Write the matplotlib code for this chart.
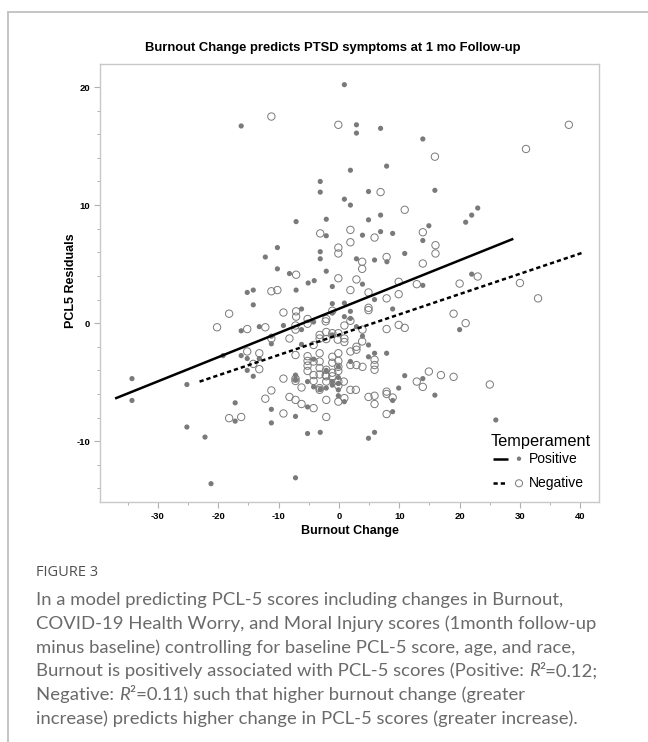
import matplotlib
matplotlib.use("Agg")
import matplotlib.pyplot as plt
from matplotlib.lines import Line2D
from matplotlib.ticker import MultipleLocator
import numpy as np

plt.rcParams['axes.unicode_minus'] = False

# ---------------- data ----------------
pos_x = [0.9, -16.2, 2.9, 2.9, 6.9, 13.9, 1.9, -3.1, -3.1, 0.9, 1.9, -7.1, -2.1, -2.1,
         -10.2, -12.2, -3.1, -3.1, 2.9, -10.2, -2.1, -8.2, -4.1, -5.1, -1.1, -15.2, -14.2,
         -7.1, -14.2, 0.9, -1.1, -6.2, -16.2, -13.2, -9.2, -6.2, -4.2, 0.9, 1.9, -1.1, 2.9,
         -11.2, -11.2, -16.2, -15.2, -13.2, -19.2, -14.2, -15.2, -6.2, -0.1, 0.9, -3.1, -2.1,
         -1.1, -1.1, -3.1, -5.2, -5.2, -7.2, -11.2, -7.2, -11.2, -17.2, -17.2, -34.3, -34.3,
         -25.2, -25.2, -22.2, -21.2, -7.2, 7.9, 4.9, 15.9, 6.9, 4.9, 23.0, 22.0, 21.0, 3.9,
         6.9, 8.9, 14.9, 13.9, 5.9, 7.95, 10.9, 3.9, 13.9, 5.9, 8.9, 22.0, 20.0, 3.9, 4.9,
         1.9, 5.9, 7.9, 5.9, 4.9, 8.9, 8.9, 9.9, 10.9, 13.9, 15.9, 26.0, 1.9, -1.1, -4.2,
         -2.1, -0.1, -0.1, -0.1, 4.9, -7.2, -5.2, -4.2, -0.1]
pos_y = [20.2, 16.7, 16.8, 16.1, 16.5, 15.6, 12.95, 12.0, 11.1, 10.5, 10.0, 8.6, 8.8, 7.4,
         6.4, 5.6, 6.05, 5.45, 5.45, 4.6, 4.4, 4.2, 3.6, 3.4, 3.1, 2.6, 2.8,
         2.8, 1.55, 1.7, 1.65, 1.2, -0.65, -0.3, -0.2, -0.55, 0.1, 0.55, 0.4, 0.85, -0.3,
         -1.1, -1.75, -2.75, -3.0, -3.0, -2.75, -4.5, -4.0, -1.8, -6.15, -6.65, -5.6, -5.5,
         -4.95, -5.25, -9.25, -9.35, -7.1, -4.4, -7.3, -7.9, -8.45, -8.3, -6.75, -4.7, -6.55,
         -5.2, -8.8, -9.65, -13.6, -13.1, 13.3, 11.15, 11.25, 9.15, 8.75, 9.75, 9.15, 8.55, 7.45,
         7.75, 7.6, 8.25, 7.0, 5.35, 5.2, 5.9, 3.3, 3.2, 2.0, 1.2, 4.15, -0.55, -1.1, -1.85,
         -3.25, -2.55, -2.55, -9.25, -9.75, -6.55, -7.5, -5.5, -4.45, -4.7, -6.1, -8.2, 1.0, -1.0, -3.05,
         -4.0, -3.7, -4.6, -5.1, -2.85, -4.8, -4.95, -5.4, -5.65]

neg_x = [-11.2, -0.1, 38.1, 15.9, 31.0, -3.1, 1.9, 1.9, -0.1, -0.1, -7.1, -0.1, 2.9, 1.9,
         -11.2, -10.2, -18.2, -9.2, -7.1, -7.1, -1.1, -20.2, -15.2, -12.2, -7.2, -5.2, -5.2,
         -2.1, 1.9, 0.9, -11.2, -8.2, -15.2, -13.2, -14.2, -13.2, -7.2, -4.2, -3.2, -3.2, -2.1,
         -2.1, -0.1, 0.9, 0.9, 1.9, 2.9, 2.9, -5.2, -5.2, -5.2, -5.2, -3.2, -3.2, -4.2, -4.2,
         -3.2, -2.1, -1.1, -1.1, -0.1, -0.1, -0.1, -0.1, -0.1, 0.9, 1.9, -2.1, -2.1, -4.2,
         -6.2, -7.2, -8.2, -6.2, -7.2, -7.2, -9.2, -11.2, -12.2, -9.2, -18.2, -16.2, 6.9, 10.9,
         5.9, 13.9, 16.0, 16.0, 3.85, 3.85, 7.9, 13.9, 9.9, 12.9, 4.9, 9.9, 7.9, 4.9, 4.9,
         20.0, 23.0, 30.0, 33.0, 19.0, 21.0, 7.9, 10.9, 9.9, -2.2, 3.9, 3.85, 1.9, 2.9, 3.9,
         5.9, 5.9, 5.9, -1.1, -0.2, -3.2, -4.2, -1.1, -0.1, -1.1, -2.2, -0.1, -3.2, -3.2,
         4.9, 5.9, 5.9, 7.9, 7.9, 8.9, 7.9, 12.9, 13.9, 14.9, 16.9, 19.0, 25.0, -7.2, -2.1,
         -2.1, 0.8, 2.8]
neg_y = [17.5, 16.8, 16.8, 14.1, 14.75, 7.6, 7.9, 6.85, 6.4, 5.9, 4.1, 3.8, 3.7, 2.8,
         2.7, 2.8, 0.8, 0.9, 1.0, 0.55, 1.05, -0.35, -0.5, -0.35, -0.2, 0.35, -0.05,
         0.35, 0.2, -0.2, -1.3, -1.3, -2.4, -2.55, -3.45, -3.9, -2.7, -1.85, -1.0, -1.3, -0.75,
         -1.35, -0.85, -1.3, -1.6, -2.4, -2.0, -2.25, -2.8, -3.2, -3.6, -4.05, -3.25, -3.8, -4.4, -4.9,
         -4.35, -3.95, -4.2, -4.5, -3.2, -3.7, -4.05, -5.3, -6.65, -6.35, -5.65, -6.5, -7.95, -7.2,
         -6.85, -6.5, -6.25, -5.45, -4.7, -4.9, -4.7, -5.7, -6.4, -7.65, -8.05, -7.95, 11.1, 9.6,
         7.25, 7.7, 6.6, 5.9, 5.2, 4.6, 5.6, 5.05, 3.5, 3.3, 2.6, 2.45, 2.1, 1.3, 1.1,
         3.35, 3.95, 3.4, 2.1, 0.8, 0.0, -0.5, -0.4, -0.15, 0.15, -0.55, -1.55, -3.55, -3.55, -3.7,
         -3.1, -3.55, -3.95, -0.85, -1.4, -2.55, -3.25, -2.85, -2.55, -3.35, -4.4, -4.95, -5.5, -5.65,
         -6.25, -6.15, -6.85, -5.8, -6.0, -6.3, -7.7, -4.95, -5.4, -4.1, -4.4, -4.55, -5.2, -0.55, -4.5,
         -4.95, -4.95, -5.65]

# fitted regression lines (slope, intercept, x-range)
pos_fit = dict(slope=0.205, intercept=1.22, x0=-37.1, x1=28.9)
neg_fit = dict(slope=0.172, intercept=-0.98, x0=-23.1, x1=40.6)

x_ticks = [-30, -20, -10, 0, 10, 20, 30, 40]
y_ticks = [-10, 0, 10, 20]

title = "Burnout Change predicts PTSD symptoms at 1 mo Follow-up"
caption_head = "FIGURE 3"
# each line: list of (text, italic?)
caption_lines = [
    [("In a model predicting PCL-5 scores including changes in Burnout,", False)],
    [("COVID-19 Health Worry, and Moral Injury scores (1month follow-up", False)],
    [("minus baseline) controlling for baseline PCL-5 score, age, and race,", False)],
    [("Burnout is positively associated with PCL-5 scores (Positive: ", False),
     ("R", True), ("\u00b2=0.12;", False)],
    [("Negative: ", False), ("R", True),
     ("\u00b2=0.11) such that higher burnout change (greater", False)],
    [("increase) predicts higher change in PCL-5 scores (greater increase).", False)],
]

# ---------------- figure ----------------
W, H = 648, 742
fig = plt.figure(figsize=(W / 100, H / 100), dpi=100)
fig.patch.set_facecolor("white")

# card frame
fig.add_artist(Line2D([8 / W, 1.0], [1 - 12 / H, 1 - 12 / H], color="#c4c4c4", lw=1.4))
fig.add_artist(Line2D([8 / W, 8 / W], [0, 1 - 12 / H], color="#c4c4c4", lw=1.4))

ax = fig.add_axes([100 / W, 1 - 502 / H, 499 / W, 438 / H])
ax.set_xlim(-39.6, 43.1)
ax.set_ylim(-15.15, 21.95)

grey = "#7a7a7a"
ax.scatter(pos_x, pos_y, s=14, color=grey, edgecolors="none", zorder=3)
ax.scatter(neg_x, neg_y, s=28, facecolors="none", edgecolors=grey, linewidths=0.7, zorder=3)

xs = np.array([pos_fit["x0"], pos_fit["x1"]])
ax.plot(xs, pos_fit["slope"] * xs + pos_fit["intercept"], color="black", lw=1.8,
        solid_capstyle="butt", zorder=4)
xs = np.array([neg_fit["x0"], neg_fit["x1"]])
ax.plot(xs, neg_fit["slope"] * xs + neg_fit["intercept"], color="black", lw=1.8,
        dashes=(1.7, 1.2), zorder=4)

for s in ax.spines.values():
    s.set_color("#c8c8c8")
    s.set_linewidth(1.0)

ax.set_xticks(x_ticks)
ax.set_yticks(y_ticks)
ax.xaxis.set_minor_locator(MultipleLocator(5))
ax.yaxis.set_minor_locator(MultipleLocator(2))
ax.tick_params(which="major", length=4, width=0.8, color="#b0b0b0", pad=3,
               labelsize=6.8)
ax.tick_params(which="minor", length=2, width=0.7, color="#b0b0b0")
for lab in ax.get_xticklabels() + ax.get_yticklabels():
    lab.set_fontfamily("Liberation Sans")
    lab.set_fontweight("bold")

ax.set_xlabel("Burnout Change", fontfamily="Liberation Sans", fontweight="bold",
              fontsize=9, labelpad=3)
ax.set_ylabel("PCL5 Residuals", fontfamily="Liberation Sans", fontweight="bold",
              fontsize=9)
ax.yaxis.set_label_coords(-0.047, 0.505)

fig.text(333 / W, 1 - 48 / H, title, ha="center", va="center",
         fontfamily="Liberation Sans", fontweight="bold", fontsize=9.4)

# legend (manual)
def axf(px, py):
    return ((px - 100) / 499, (502 - py) / 438)

tx, ty = axf(490.7, 441.7)
ax.text(tx, ty, "Temperament", transform=ax.transAxes, ha="left", va="center",
        fontfamily="Liberation Sans", fontsize=11.8)
(a0, yb), (a1, _) = axf(492.7, 458.7), axf(508.3, 458.7)
ax.plot([a0, a1], [yb, yb], transform=ax.transAxes, color="black", lw=1.8,
        solid_capstyle="butt", clip_on=False)
ax.scatter([axf(519, 458.7)[0]], [yb], transform=ax.transAxes, s=10, color=grey,
           edgecolors="none", clip_on=False)
ax.text(axf(529, 458.7)[0], yb, "Positive", transform=ax.transAxes, ha="left",
        va="center", fontfamily="Liberation Sans", fontsize=10)
(a0, yb), (a1, _) = axf(492.7, 483.3), axf(507, 483.3)
ax.plot([a0, a1], [yb, yb], transform=ax.transAxes, color="black", lw=1.8,
        dashes=(1.7, 1.2), clip_on=False)
ax.scatter([axf(519, 483.3)[0]], [yb], transform=ax.transAxes, s=26, facecolors="none",
           edgecolors=grey, linewidths=0.7, clip_on=False)
ax.text(axf(529, 483.3)[0], yb, "Negative", transform=ax.transAxes, ha="left",
        va="center", fontfamily="Liberation Sans", fontsize=10)

# caption
fig.text(36 / W, 1 - 572 / H, caption_head, ha="left", va="center",
         fontfamily="Open Sans", fontsize=10.5, color="#505050")
cap_kw = dict(fontfamily="Lato", fontsize=13.3, color="#6a6a6a")
for i, parts in enumerate(caption_lines):
    y = 1 - (605 + i * 23.8) / H
    t = None
    for txt, ital in parts:
        style = "italic" if ital else "normal"
        if t is None:
            t = fig.text(36 / W, y, txt, ha="left", va="baseline", fontstyle=style, **cap_kw)
        else:
            t = ax.annotate(txt, xy=(1, 0), xycoords=t, ha="left", va="bottom",
                            fontstyle=style, annotation_clip=False, **cap_kw)

fig.savefig("out.png", dpi=100, facecolor="white")
